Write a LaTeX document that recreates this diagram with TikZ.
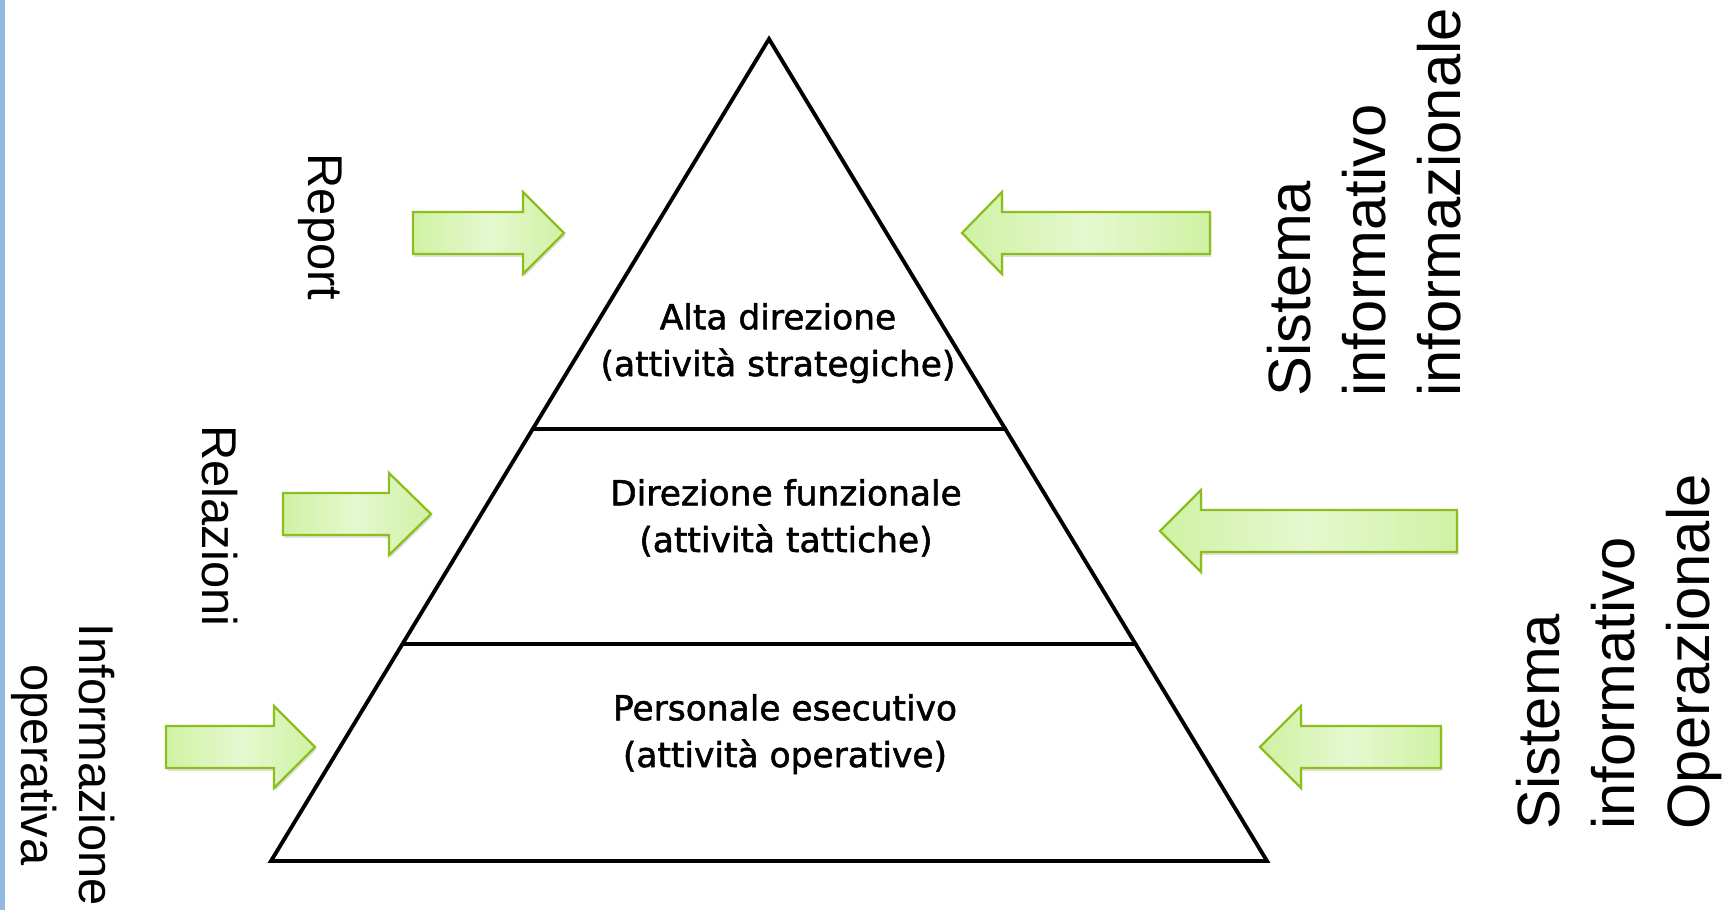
\documentclass[tikz,border=0pt]{standalone}
\usepackage{fontspec}
\usepackage{tikz}
\usetikzlibrary{calc}
\usetikzlibrary{shadows}
\newfontfamily\fontpiramide[FakeBold=1.6]{DejaVu Sans}
\newfontfamily\fontetichetta{Liberation Sans}
\definecolor{verdebordo}{RGB}{141,190,30}
\definecolor{verdechiaro}{RGB}{207,242,163}
\definecolor{verdecentro}{RGB}{229,248,208}
\definecolor{bordoblu}{RGB}{146,186,222}
\tikzset{
  freccia/.style={draw=verdebordo,line width=1.3pt,line join=miter,left color=verdechiaro,right color=verdechiaro,middle color=verdecentro,drop shadow={shadow xshift=0.8pt,shadow yshift=-1.6pt,opacity=0.25}},
  livello/.style={font=\fontpiramide\fontsize{19.6}{26.6}\selectfont,align=center,anchor=base,inner sep=0pt},
  etsx/.style={font=\fontetichetta\fontsize{27.8}{33.4}\selectfont,align=center,anchor=base,rotate=-90,inner sep=0pt},
  etdx/.style={font=\fontetichetta\fontsize{34}{42.5}\selectfont,align=left,anchor=base west,rotate=90,inner sep=0pt}
}
\begin{document}
\begin{tikzpicture}[line cap=round,line join=round,x=0.02cm,y=-0.02cm]
\useasboundingbox (0,0) rectangle (1731,910);
\fill[bordoblu] (0,0) rectangle (5,910);
\coordinate (apice) at (769,39);
\coordinate (basesx) at (271,861);
\coordinate (basedx) at (1267,861);
\draw[line width=2.2pt,line join=miter] (apice) -- (basesx) -- (basedx) -- cycle;
\draw[line width=2.2pt] ($(apice)!0.4745!(basesx)$) -- ($(apice)!0.4745!(basedx)$);
\draw[line width=2.2pt] ($(apice)!0.736!(basesx)$) -- ($(apice)!0.736!(basedx)$);
\node[livello] (alta) at (778,376) {Alta direzione\\(attività strategiche)};
\node[livello] (funz) at (786,552) {Direzione funzionale\\(attività tattiche)};
\node[livello] (pers) at (785,767) {Personale esecutivo\\(attività operative)};
\draw[freccia] (413,212) -- ++(110,0) -- ++(0,-20) -- ++(41,41) -- ++(-41,41) -- ++(0,-20) -- ++(-110,0) -- cycle;
\draw[freccia] (283,493) -- ++(106,0) -- ++(0,-20) -- ++(42,41) -- ++(-42,41) -- ++(0,-20) -- ++(-106,0) -- cycle;
\draw[freccia] (166,726) -- ++(108,0) -- ++(0,-20) -- ++(41,41) -- ++(-41,41) -- ++(0,-20) -- ++(-108,0) -- cycle;
\draw[freccia] (1210,212) -- ++(-208,0) -- ++(0,-20) -- ++(-40,41) -- ++(40,41) -- ++(0,-20) -- ++(208,0) -- cycle;
\draw[freccia] (1457,510) -- ++(-256,0) -- ++(0,-20) -- ++(-41,41) -- ++(41,41) -- ++(0,-20) -- ++(256,0) -- cycle;
\draw[freccia] (1441,726) -- ++(-140,0) -- ++(0,-20) -- ++(-41,41) -- ++(41,41) -- ++(0,-20) -- ++(140,0) -- cycle;
\node[etsx] (report) at (308,227) {Report};
\node[etsx] (relazioni) at (202,526) {Relazioni};
\node[etsx] (infoop) at (21,765) {Informazione\\operativa};
\node[etdx] (sisinfo) at (1460,397) {Sistema\\informativo\\informazionale};
\node[etdx] (sisop) at (1709,830) {Sistema\\informativo\\Operazionale};
\end{tikzpicture}
\end{document}
